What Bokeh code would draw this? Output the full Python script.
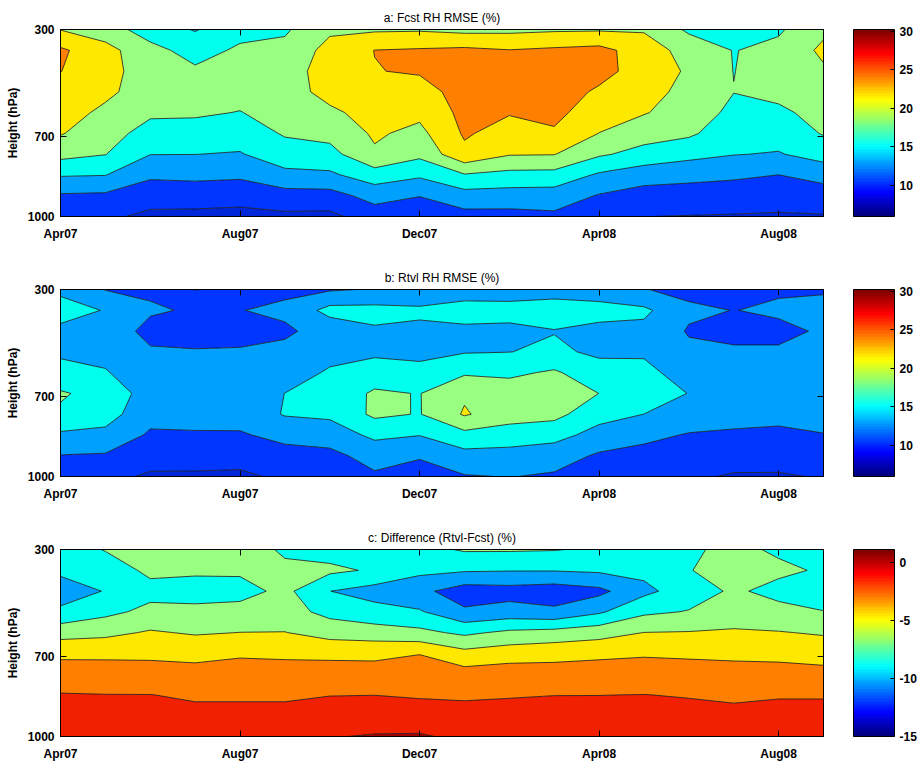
import numpy as np
from bokeh.plotting import figure
from bokeh.models import Range1d, FixedTicker, LinearAxis, ColorBar, LinearColorMapper
from bokeh.layouts import column
from bokeh.embed import file_html
from bokeh.resources import INLINE

# ---------------- data ----------------
months = list(range(18))                      # Apr07 ... Sep08 (monthly)
xtick_pos = [0, 4, 8, 12, 16]
xtick_labels = ["Apr07", "Aug07", "Dec07", "Apr08", "Aug08"]
pressure = [300, 378, 456, 533, 611, 689, 767, 844, 922, 1000]   # hPa
ytick_pos = [300, 700, 1000]

# one vertical profile (300 -> 1000 hPa) per month
fcst_rmse = [
    [21.9, 25.5, 25.05, 24.1, 23.16, 22.2, 19.93, 16.27, 12.66, 11.0],
    [20.5, 23.0, 23.4, 22.6, 21.42, 20.24, 19.08, 16.1, 12.48, 10.6],
    [17.5, 20.0, 20.0, 20.6, 19.5, 17.83, 16.05, 13.5, 11.35, 9.3],
    [15.8, 17.8, 19.5, 20.0, 19.4, 17.8, 16.02, 13.7, 11.4, 9.2],
    [18.0, 19.5, 20.3, 20.0, 18.9, 17.3, 15.8, 13.5, 11.2, 9.0],
    [18.6, 19.8, 20.6, 20.8, 20.2, 19.3, 17.6, 15.25, 11.8, 9.4],
    [21.5, 23.0, 23.4, 22.9, 21.5, 19.9, 18.0, 15.5, 11.9, 9.3],
    [21.6, 25.05, 24.9, 23.8, 23.0, 22.4, 21.6, 17.65, 14.1, 11.5],
    [21.7, 25.3, 25.3, 23.8, 22.7, 21.2, 19.7, 16.5, 13.1, 11.0],
    [21.2, 25.6, 26.2, 26.2, 25.8, 25.35, 24.3, 18.8, 14.8, 12.0],
    [21.3, 25.1, 25.8, 25.8, 25.2, 23.8, 22.2, 18.1, 14.7, 12.0],
    [21.6, 25.5, 26.3, 26.3, 25.8, 24.6, 22.1, 18.0, 14.6, 12.4],
    [21.7, 25.9, 25.9, 24.6, 23.3, 21.95, 19.4, 15.6, 12.8, 11.0],
    [21.7, 23.6, 23.8, 23.0, 22.2, 20.2, 18.0, 14.3, 11.8, 10.02],
    [18.5, 20.8, 21.6, 21.2, 20.6, 19.5, 16.9, 13.85, 11.7, 9.9],
    [17.8, 18.9, 18.95, 19.05, 18.3, 17.2, 16.1, 13.5, 11.5, 9.8],
    [18.6, 19.8, 20.2, 19.7, 18.5, 17.2, 15.8, 13.0, 11.2, 9.7],
    [21.4, 22.6, 21.6, 20.8, 19.9, 19.2, 17.2, 14.1, 11.5, 9.8],
]

rtvl_rmse = [
    [15.4, 17.2, 15.3, 15.5, 17.0, 19.3, 18.6, 15.5, 12.9, 11.5],
    [12.9, 15.85, 15.0, 15.2, 16.2, 18.0, 17.2, 15.25, 12.7, 10.8],
    [12.5, 13.4, 12.0, 13.4, 14.3, 14.6, 14.0, 12.6, 11.2, 9.6],
    [9.9, 12.64, 11.8, 13.2, 14.4, 14.7, 14.1, 12.7, 11.1, 9.6],
    [11.0, 12.93, 11.9, 13.3, 14.3, 14.6, 14.2, 12.7, 11.0, 9.5],
    [12.5, 13.5, 12.6, 13.6, 14.8, 16.02, 16.2, 13.9, 11.9, 10.5],
    [12.7, 17.0, 14.0, 15.2, 16.3, 17.2, 16.5, 14.6, 12.1, 11.0],
    [13.2, 17.0, 15.6, 15.4, 17.5, 19.4, 19.6, 16.6, 14.3, 12.5],
    [13.5, 16.6, 15.3, 15.3, 16.8, 18.9, 18.85, 16.1, 13.4, 11.2],
    [14.8, 17.0, 15.5, 15.8, 18.6, 21.6, 22.3, 18.1, 15.0, 12.8],
    [14.8, 16.9, 15.4, 15.95, 18.4, 20.6, 20.3, 17.6, 14.9, 13.1],
    [15.0, 17.2, 15.9, 16.5, 19.4, 20.8, 19.9, 17.0, 14.4, 12.6],
    [14.9, 16.8, 15.4, 15.5, 17.1, 18.98, 17.0, 15.0, 12.6, 10.9],
    [13.1, 16.6, 15.2, 15.6, 16.8, 17.5, 15.98, 13.8, 12.0, 10.6],
    [12.3, 13.5, 12.75, 13.6, 14.7, 15.93, 14.8, 12.8, 11.6, 10.5],
    [12.0, 12.95, 12.2, 13.4, 14.2, 14.5, 14.0, 12.6, 11.3, 9.7],
    [12.7, 13.4, 12.4, 13.3, 14.0, 14.3, 13.8, 12.4, 11.2, 9.7],
    [12.8, 13.6, 13.3, 13.8, 14.3, 14.5, 14.1, 12.9, 11.5, 10.2],
]

diff_rmse = [
    [-8.0, -8.6, -10.0, -8.6, -5.8, -3.4, -2.07, -0.9, -0.3, 0.2],
    [-6.9, -8.0, -8.9, -7.5, -5.5, -3.4, -2.1, -0.97, -0.4, 0.0],
    [-6.2, -6.6, -7.6, -6.5, -4.8, -3.4, -2.2, -0.98, -0.5, -0.1],
    [-6.2, -6.7, -7.8, -6.5, -5.2, -3.5, -2.4, -1.2, -0.6, -0.3],
    [-6.0, -6.7, -7.7, -6.3, -4.98, -3.2, -2.3, -1.2, -0.6, -0.3],
    [-7.3, -6.6, -6.5, -6.2, -4.95, -3.3, -2.3, -1.2, -0.6, -0.2],
    [-7.8, -6.6, -8.98, -7.6, -5.8, -3.4, -2.2, -1.05, -0.2, 0.9],
    [-7.5, -7.23, -9.8, -8.3, -6.1, -3.4, -2.3, -1.02, -0.05, 1.15],
    [-7.6, -8.5, -10.5, -8.8, -6.5, -3.05, -2.2, -1.2, -0.1, 1.2],
    [-6.8, -8.8, -12.0, -10.7, -7.4, -4.4, -2.2, -1.2, -0.5, 0.6],
    [-6.8, -8.9, -11.8, -10.2, -6.6, -3.9, -2.0, -1.1, -0.5, -0.1],
    [-6.9, -8.9, -12.1, -10.6, -6.3, -3.6, -2.2, -1.02, -0.5, -0.1],
    [-7.3, -8.7, -11.5, -9.3, -5.8, -3.4, -2.1, -1.02, -0.4, -0.1],
    [-7.6, -8.5, -9.5, -7.4, -4.98, -3.2, -2.1, -0.98, -0.5, -0.2],
    [-7.3, -7.05, -7.97, -6.9, -4.9, -3.3, -2.2, -1.1, -0.5, -0.2],
    [-6.5, -6.5, -6.7, -6.3, -4.7, -3.4, -2.3, -1.2, -0.7, -0.3],
    [-7.3, -6.6, -7.6, -6.4, -4.9, -3.5, -2.3, -1.1, -0.6, -0.3],
    [-7.8, -7.23, -8.0, -6.95, -5.2, -3.8, -2.4, -1.1, -0.6, -0.3],
]

rmse_levels = [0, 10, 13, 16, 19, 22, 25, 40]
diff_levels = [-20, -11, -9, -7, -5, -3, -1, 1, 10]
rmse_ticks = [10, 15, 20, 25, 30]
rmse_tick_labels = ["10", "15", "20", "25", "30"]
diff_ticks = [-15, -10, -5, 0]
diff_tick_labels = ["-15", "-10", "-5", "0"]

# ---------------- styling ----------------
DKBLUE, BLUE, LBLUE, CYAN = "#0026D9", "#0036FF", "#00A0FF", "#00FFEF"
GREEN, YELLOW, ORANGE, RED, DKRED = "#99FF80", "#FFE800", "#FF8000", "#F02000", "#A80000"
rmse_fills = [DKBLUE, BLUE, LBLUE, CYAN, GREEN, YELLOW, ORANGE]
diff_fills = [BLUE, LBLUE, CYAN, GREEN, YELLOW, ORANGE, RED, DKRED]
FONT = "Liberation Sans"


def jet(n=64):
    out = []
    for i in range(n):
        f = i / (n - 1)
        r = min(max(min(4 * f - 1.5, -4 * f + 4.5), 0), 1)
        g = min(max(min(4 * f - 0.5, -4 * f + 3.5), 0), 1)
        b = min(max(min(4 * f + 0.5, -4 * f + 2.5), 0), 1)
        out.append("#%02x%02x%02x" % (round(r * 255), round(g * 255), round(b * 255)))
    return out


def style_axis(ax):
    ax.major_tick_in = 6
    ax.major_tick_out = 0
    ax.minor_tick_line_color = None
    ax.major_tick_line_color = "black"
    ax.axis_line_color = "black"
    ax.major_label_text_font = FONT
    ax.major_label_text_font_size = "12px"
    ax.major_label_text_font_style = "bold"
    ax.major_label_text_color = "black"


def panel(title, profiles, levels, fills, cb_low, cb_high, cb_ticks, cb_labels, top, bottom):
    z = np.array(profiles).T
    p = figure(frame_width=763, frame_height=187,
               x_range=Range1d(0, 17), y_range=Range1d(1000, 300),
               output_backend="svg", toolbar_location=None,
               min_border_left=60, min_border_right=94,
               min_border_top=top, min_border_bottom=bottom,
               title=title)
    p.contour(x=months, y=pressure, z=z, levels=levels,
              fill_color=fills, line_color="#151515", line_width=0.8)
    p.grid.visible = False
    p.outline_line_color = "black"
    p.background_fill_color = "white"
    p.border_fill_color = "white"

    p.title.text_font = FONT
    p.title.text_font_size = "12px"
    p.title.text_font_style = "normal"
    p.title.text_color = "black"
    p.title.align = "center"
    p.title.standoff = 9

    xa = p.below[0]
    xa.ticker = FixedTicker(ticks=xtick_pos)
    xa.major_label_overrides = {t: l for t, l in zip(xtick_pos, xtick_labels)}
    style_axis(xa)
    xa.major_label_standoff = 10

    ya = p.left[0]
    ya.ticker = FixedTicker(ticks=ytick_pos)
    style_axis(ya)
    ya.major_label_standoff = 6
    ya.axis_label = "Height (hPa)"
    ya.axis_label_text_font = FONT
    ya.axis_label_text_font_size = "12px"
    ya.axis_label_text_font_style = "bold"
    ya.axis_label_text_color = "black"
    ya.axis_label_standoff = 5

    # tick marks on the top and right edges (box on), labels not drawn
    ta = LinearAxis(ticker=FixedTicker(ticks=xtick_pos))
    style_axis(ta)
    ta.major_label_text_font_size = "0px"
    ta.major_label_text_color = None
    ta.major_label_standoff = 0
    p.add_layout(ta, "above")

    ra = LinearAxis(ticker=FixedTicker(ticks=ytick_pos))
    style_axis(ra)
    ra.major_label_text_font_size = "0px"
    ra.major_label_text_color = None
    ra.major_label_standoff = 0
    p.add_layout(ra, "right")

    # blank gap between the plot box and the colour bar
    gap = ColorBar(color_mapper=LinearColorMapper(palette=["#ffffff"], low=0, high=1),
                   ticker=FixedTicker(ticks=[]), width=30, padding=0, label_standoff=0,
                   scale_alpha=0, bar_line_color=None, major_tick_line_color=None,
                   minor_tick_line_color=None, border_line_color=None,
                   background_fill_alpha=0, major_label_text_color=None)
    p.add_layout(gap, "right")

    mapper = LinearColorMapper(palette=jet(64), low=cb_low, high=cb_high)
    cb = ColorBar(color_mapper=mapper, ticker=FixedTicker(ticks=cb_ticks),
                  major_label_overrides={t: l for t, l in zip(cb_ticks, cb_labels)},
                  width=41, padding=0, label_standoff=5,
                  major_label_text_font=FONT, major_label_text_font_size="12px",
                  major_label_text_font_style="bold", major_label_text_color="black",
                  major_tick_in=4, major_tick_out=0, major_tick_line_color="black",
                  minor_tick_line_color=None, bar_line_color="black",
                  border_line_color=None, background_fill_alpha=0)
    p.add_layout(cb, "right")
    return p


pa = panel("a: Fcst RH RMSE (%)", fcst_rmse, rmse_levels, rmse_fills,
           6.0, 30.2, rmse_ticks, rmse_tick_labels, 29, 48)
pb = panel("b: Rtvl RH RMSE (%)", rtvl_rmse, rmse_levels, rmse_fills,
           6.0, 30.2, rmse_ticks, rmse_tick_labels, 23, 48)
pc = panel("c: Difference (Rtvl-Fcst) (%)", diff_rmse, diff_levels, diff_fills,
           -15.0, 1.1, diff_ticks, diff_tick_labels, 23, 26)

layout = column(pa, pb, pc)
open("out.html", "w").write(file_html(layout, INLINE, title="RH RMSE"))
